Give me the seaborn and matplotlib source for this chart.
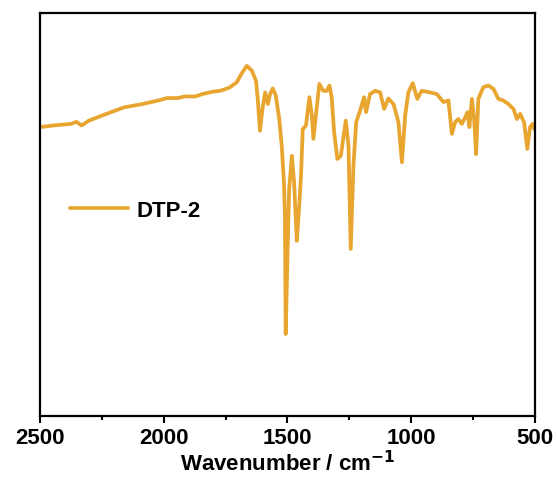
import numpy as np
import pandas as pd
import matplotlib
matplotlib.use("Agg")
import matplotlib.pyplot as plt
import seaborn as sns
from matplotlib.ticker import MultipleLocator

wavenumber = [2500, 2447, 2375, 2353, 2332, 2303, 2231, 2160, 2088, 2015, 1987, 1944, 1915, 1872,
              1843, 1800, 1772, 1742, 1732, 1714, 1705, 1685, 1664, 1644, 1627, 1620, 1611, 1601,
              1590, 1579, 1570, 1559, 1547, 1533, 1523, 1514, 1510, 1507, 1499, 1493, 1482, 1473,
              1462, 1453, 1445, 1438, 1425, 1411, 1401, 1395, 1385, 1371, 1355, 1341, 1330, 1321,
              1311, 1298, 1284, 1264, 1253, 1244, 1233, 1222, 1206, 1190, 1182, 1166, 1145, 1125,
              1109, 1092, 1071, 1051, 1037, 1024, 1011, 993, 975, 957, 923, 896, 869, 849, 835,
              822, 809, 795, 781, 772, 764, 754, 745, 737, 728, 708, 687, 667, 647, 627, 606, 586,
              572, 559, 543, 530, 519, 508, 502]
transmittance = [71.7, 72.1, 72.5, 73.0, 72.1, 73.3, 75.0, 76.6, 77.4, 78.4, 78.9, 78.9, 79.3, 79.3,
                 79.9, 80.5, 80.7, 81.3, 81.6, 82.4, 82.8, 85.0, 86.9, 85.7, 83.2, 78.7, 70.8, 76.2,
                 80.3, 77.4, 79.9, 81.3, 79.5, 73.7, 67.1, 58.0, 49.7, 20.4, 41.5, 56.4, 64.6, 58.0,
                 43.5, 51.4, 59.7, 71.2, 72.1, 79.1, 74.5, 68.8, 74.5, 82.4, 80.7, 80.7, 82.0, 79.1,
                 70.4, 63.8, 64.6, 73.3, 67.1, 41.5, 62.1, 72.9, 75.8, 79.1, 75.4, 79.9, 80.7, 80.3,
                 76.2, 78.8, 77.4, 72.9, 63.0, 74.5, 80.3, 82.6, 78.7, 80.7, 80.3, 79.9, 77.9, 78.3, 70.0,
                 72.9, 73.7, 72.5, 74.1, 75.4, 71.7, 78.7, 73.7, 65.0, 78.7, 81.6, 82.0, 81.2, 78.7, 78.3, 77.4, 76.2,
                 73.7, 75.0, 72.9, 66.3, 71.7, 72.5, 71.2]
series_name = "DTP-2"
x_ticks = [2500, 2000, 1500, 1000, 500]

df = pd.DataFrame({"Wavenumber": wavenumber, "T": transmittance, "sample": series_name})

sns.set_style("ticks")
plt.rcParams["font.family"] = ["Liberation Sans", "DejaVu Sans"]
plt.rcParams["text.color"] = "black"
plt.rcParams["axes.labelcolor"] = "black"
plt.rcParams["xtick.color"] = "black"
plt.rcParams["mathtext.default"] = "bf"

fig = plt.figure(figsize=(5.57, 4.81), dpi=100)
ax = fig.add_axes([0.072, 0.1324, 0.888, 0.8386])

sns.lineplot(data=df, x="Wavenumber", y="T", hue="sample", palette=["#E8A530"],
             linewidth=2.7, ax=ax, sort=True)

ax.set_xlim(2500, 500)
ax.set_ylim(0, 100)
ax.set_xticks(x_ticks)
ax.set_xticklabels([str(t) for t in x_ticks], fontsize=16, fontweight="bold")
ax.xaxis.set_minor_locator(MultipleLocator(250))
ax.set_yticks([])
ax.set_ylabel("")
ax.set_xlabel("Wavenumber / cm$^{-1}$", fontsize=16, fontweight="bold", labelpad=1)
ax.tick_params(axis="x", which="major", direction="out", length=5, width=1.5, pad=3)
ax.tick_params(axis="x", which="minor", direction="out", length=3, width=1.5)
for s in ax.spines.values():
    s.set_visible(True)
    s.set_linewidth(1.6)
    s.set_color("black")

leg = ax.legend(loc="center left", bbox_to_anchor=(0.02, 0.51), frameon=False,
                handlelength=2.6, handletextpad=0.4, prop={"size": 16, "weight": "bold"})
for line in leg.get_lines():
    line.set_linewidth(2.7)

fig.savefig("out.png", dpi=100, facecolor="white")
